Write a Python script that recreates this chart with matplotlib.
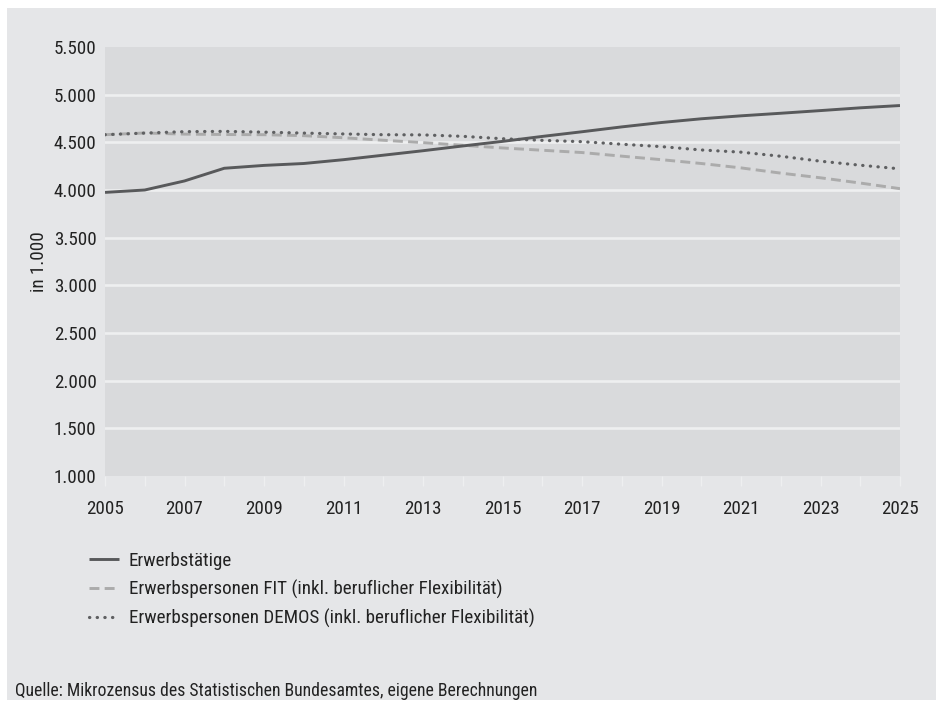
import matplotlib
matplotlib.use("Agg")
import matplotlib.pyplot as plt
from matplotlib import font_manager
from matplotlib.patches import Rectangle

years = list(range(2005, 2026))
erwerbstaetige = [3975, 4000, 4095, 4228, 4258, 4278, 4318, 4365, 4412, 4462, 4510,
                  4562, 4611, 4662, 4708, 4747, 4778, 4805, 4833, 4862, 4886]
fit = [4580, 4598, 4586, 4582, 4580, 4570, 4548, 4522, 4497, 4469, 4441,
       4417, 4393, 4355, 4318, 4278, 4232, 4177, 4128, 4073, 4014]
demos = [4580, 4597, 4612, 4615, 4607, 4597, 4588, 4580, 4578, 4563, 4538,
         4521, 4507, 4480, 4455, 4420, 4397, 4354, 4302, 4260, 4222]
series_labels = ["Erwerbstätige",
                 "Erwerbspersonen FIT (inkl. beruflicher Flexibilität)",
                 "Erwerbspersonen DEMOS (inkl. beruflicher Flexibilität)"]
y_ticks = [1000, 1500, 2000, 2500, 3000, 3500, 4000, 4500, 5000, 5500]
y_ticklabels = ["1.000", "1.500", "2.000", "2.500", "3.000", "3.500",
                "4.000", "4.500", "5.000", "5.500"]
x_ticklabels_years = list(range(2005, 2026, 2))
y_label = "in 1.000"
source = "Quelle: Mikrozensus des Statistischen Bundesamtes, eigene Berechnungen"

available = {f.name for f in font_manager.fontManager.ttflist}
family, fs, fs_src = "Liberation Sans", 12.3, 11.5
for cand in ["Roboto Condensed", "Open Sans Condensed", "Liberation Sans Narrow"]:
    if cand in available:
        family, fs, fs_src = cand, 13.7, 12.7
        break
plt.rcParams["font.family"] = [family, "DejaVu Sans"]

W, H = 936, 707
fig = plt.figure(figsize=(W / 100, H / 100), dpi=100, facecolor="white")

# grey panel behind the whole chart
fig.patches.append(Rectangle((7 / W, 1 - 700 / H), 1 - 7 / W, (700 - 8) / H,
                             transform=fig.transFigure, facecolor="#e5e6e8",
                             edgecolor="none", zorder=-5))

ax = fig.add_axes([105 / W, 1 - 476 / H, (900 - 105) / W, (476 - 47) / H])
ax.set_zorder(2)
ax.set_facecolor("#d9dadc")
for s in ax.spines.values():
    s.set_visible(False)

for v in y_ticks[1:-1]:
    ax.axhline(v, color="#eeeff0", lw=1.9, zorder=1)

ax.plot(years, erwerbstaetige, color="#58595b", lw=2.1, solid_capstyle="butt", zorder=4,
        label=series_labels[0])
ax.plot(years, fit, color="#ababab", lw=2.1, dashes=(3.4, 1.8), zorder=3,
        label=series_labels[1])
ax.plot(years, demos, color="#5f6062", lw=2.3, dashes=(0.1, 2.3), dash_capstyle="round",
        zorder=3, label=series_labels[2])

ax.set_xlim(2005, 2025)
ax.set_ylim(1000, 5500)
ax.set_yticks(y_ticks)
ax.set_yticklabels(y_ticklabels)
ax.set_xticks(years)
ax.set_xticklabels([str(y) if y in x_ticklabels_years else "" for y in years])
ax.tick_params(axis="x", length=7.5, width=1.0, color="#eeeff0", pad=10,
               labelsize=fs, labelcolor="#222222")
ax.tick_params(axis="y", length=0, pad=6, labelsize=fs, labelcolor="#222222")
ax.set_ylabel(y_label, fontsize=fs, color="#222222", labelpad=4)

handles, labels = ax.get_legend_handles_labels()
leg = fig.legend(handles, labels, loc="upper left", bbox_to_anchor=(81 / W, 1 - 544 / H),
                 frameon=False, fontsize=fs, handlelength=1.6, handletextpad=0.5,
                 labelspacing=0.52, borderaxespad=0, labelcolor="#222222")
leg.set_zorder(3)

fig.text(15 / W, 1 - 691 / H, source, fontsize=fs_src, color="#222222",
         va="center", ha="left")

fig.savefig("out.png", dpi=100, facecolor="white")
